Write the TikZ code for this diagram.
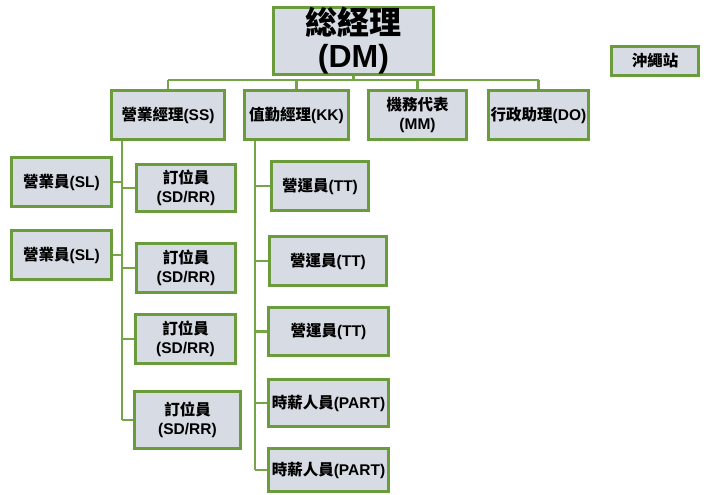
\documentclass[tikz,border=0pt]{standalone}
\usepackage{fontspec}
\setmainfont{Noto Sans CJK TC}
\newfontfamily\lat{Liberation Sans}
\definecolor{boxgreen}{HTML}{6A9C3C}
\definecolor{boxfill}{HTML}{D6DBE4}
\definecolor{linegreen}{HTML}{74A648}
\begin{document}
\begin{tikzpicture}[x=1pt,y=-1pt,
  bx/.style={draw=boxgreen,fill=boxfill,line width=3pt,inner sep=0pt,align=center,
    font=\fontsize{15.5}{18.5}\selectfont\bfseries},
  big/.style={font=\fontsize{32}{33}\selectfont\bfseries},
  conn/.style={draw=linegreen,line width=2.5pt}]
\useasboundingbox (0,0) rectangle (707,495);
% nodes
\node[bx,big,minimum width=160,minimum height=59] (dm) at (353.5,41) {総経理\\{\lat(DM)}};
\node[bx,minimum width=87,minimum height=29] (ok) at (655,61) {沖繩站};
\node[bx,minimum width=113,minimum height=49] (ss) at (168,115) {營業經理{\lat(SS)}};
\node[bx,minimum width=104,minimum height=49] (kk) at (296.5,115) {值勤經理{\lat(KK)}};
\node[bx,minimum width=98,minimum height=49] (mm) at (417.5,115) {機務代表\\{\lat(MM)}};
\node[bx,minimum width=100,minimum height=49] (do) at (538.5,115) {行政助理{\lat(DO)}};
\node[bx,minimum width=100,minimum height=49] (sl1) at (61.5,182) {營業員{\lat(SL)}};
\node[bx,minimum width=100,minimum height=49] (sl2) at (61.5,255) {營業員{\lat(SL)}};
\node[bx,minimum width=99,minimum height=47] (sd1) at (186,188) {訂位員\\{\lat(SD/RR)}};
\node[bx,minimum width=99,minimum height=49] (sd2) at (186,268) {訂位員\\{\lat(SD/RR)}};
\node[bx,minimum width=100,minimum height=49] (sd3) at (185.5,339) {訂位員\\{\lat(SD/RR)}};
\node[bx,minimum width=106,minimum height=57] (sd4) at (187.5,420) {訂位員\\{\lat(SD/RR)}};
\node[bx,minimum width=97,minimum height=49] (tt1) at (320,186) {營運員{\lat(TT)}};
\node[bx,minimum width=117,minimum height=49] (tt2) at (328,261) {營運員{\lat(TT)}};
\node[bx,minimum width=120,minimum height=48] (tt3) at (328.5,331.5) {營運員{\lat(TT)}};
\node[bx,minimum width=120,minimum height=47] (pt1) at (328.5,403) {時薪人員{\lat(PART)}};
\node[bx,minimum width=120,minimum height=43] (pt2) at (328.5,470) {時薪人員{\lat(PART)}};
% connectors
\coordinate (barL) at (168,80);
\coordinate (barR) at (538.5,80);
\draw[conn] (dm.south) -- (dm.south |- barL);
\draw[conn] (barL) -- (barR);
\draw[conn] (ss.north |- barL) -- (ss.north);
\draw[conn] (kk.north |- barL) -- (kk.north);
\draw[conn] (mm.north |- barL) -- (mm.north);
\draw[conn] (do.north |- barL) -- (do.north);
% SS trunk
\coordinate (st) at (122,141);
\draw[conn] (st) -- (st |- sd4.west);
\draw[conn] (sl1.east) -- (sl1.east -| st);
\draw[conn] (sl2.east) -- (sl2.east -| st);
\draw[conn] (sd1.west -| st) -- (sd1.west);
\draw[conn] (sd2.west -| st) -- (sd2.west);
\draw[conn] (sd3.west -| st) -- (sd3.west);
\draw[conn] (sd4.west -| st) -- (sd4.west);
% KK trunk
\coordinate (kt) at (255,141);
\draw[conn] (kt) -- (kt |- pt2.west);
\draw[conn] (tt1.west -| kt) -- (tt1.west);
\draw[conn] (tt2.west -| kt) -- (tt2.west);
\draw[conn] (tt3.west -| kt) -- (tt3.west);
\draw[conn] (pt1.west -| kt) -- (pt1.west);
\draw[conn] (pt2.west -| kt) -- (pt2.west);
\end{tikzpicture}
\end{document}
